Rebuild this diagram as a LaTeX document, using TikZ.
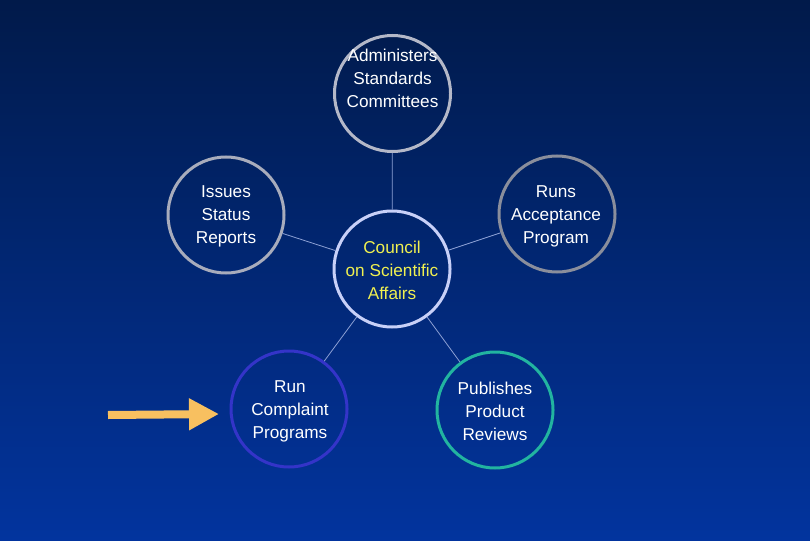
\documentclass[tikz,border=0pt]{standalone}
\usepackage{fontspec}
\setmainfont{Liberation Sans}
\usetikzlibrary{arrows.meta}
\definecolor{bgtop}{HTML}{011A4A}
\definecolor{bgmid}{HTML}{022A7A}
\definecolor{bgbot}{HTML}{02349E}
\definecolor{cgray}{HTML}{B4B8C8}
\definecolor{cgrayb}{HTML}{A8ACBC}
\definecolor{cgrayd}{HTML}{8A8E9C}
\definecolor{clav}{HTML}{C8D0F8}
\definecolor{cblue}{HTML}{3434C8}
\definecolor{cteal}{HTML}{22B4A0}
\definecolor{linkc}{HTML}{8CA0D4}
\definecolor{txty}{HTML}{F0F050}
\definecolor{arrc}{HTML}{F8C060}
\tikzset{
  circ/.style={circle, draw, line width=3pt, minimum size=116pt, inner sep=0pt},
  txt/.style={align=center, text=white, font=\fontsize{17.2}{23}\selectfont},
  link/.style={draw=linkc, line width=0.8pt},
  bigarrow/.style={draw=arrc, line width=8pt, -{Triangle[width=30pt,length=30pt]}}
}
\begin{document}
\begin{tikzpicture}[x=1pt,y=-1pt]
\useasboundingbox (0,0) rectangle (810,540);
\shade[top color=bgtop, middle color=bgmid, bottom color=bgbot] (0,0) rectangle (810,540);
% circles
\node[circ, draw=cgray] (adm) at (392.5,93.5) {};
\node[circ, draw=cgrayb] (iss) at (226,215) {};
\node[circ, draw=clav] (csa) at (392,269) {};
\node[circ, draw=cgrayd] (run) at (557,214) {};
\node[circ, draw=cblue] (cmp) at (289,409) {};
\node[circ, draw=cteal] (pub) at (495,410) {};
% connectors
\path[link] (csa) -- (adm);
\path[link] (csa) -- (iss);
\path[link] (csa) -- (run);
\path[link] (csa) -- (cmp);
\path[link] (csa) -- (pub);
% texts
\node[txt] (admt) at (392.5,78) {Administers\\Standards\\Committees};
\node[txt] (isst) at (226,216.5) {Issues\\Status\\Reports};
\node[txt, text=txty] (csat) at (392,270.5) {Council\\on Scientific\\Affairs};
\node[txt] (runt) at (556,216.5) {Runs\\Acceptance\\Program};
\node[txt] (cmpt) at (290,411.5) {Run\\Complaint\\Programs};
\node[txt] (pubt) at (495,411.5) {Publishes\\Product\\Reviews};
% arrow
\coordinate (as) at (108,415);
\coordinate (ae) at (219,414);
\draw[bigarrow] (as) -- (ae);
\end{tikzpicture}
\end{document}
